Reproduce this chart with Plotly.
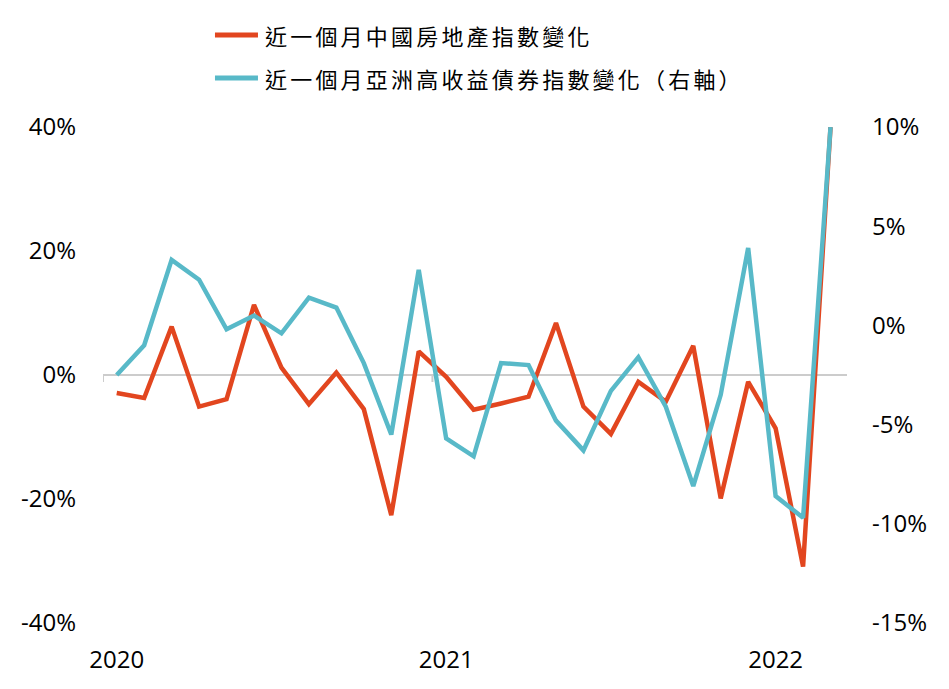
import plotly.graph_objects as go

months = ["2020-01","2020-02","2020-03","2020-04","2020-05","2020-06","2020-07","2020-08","2020-09","2020-10","2020-11","2020-12",
          "2021-01","2021-02","2021-03","2021-04","2021-05","2021-06","2021-07","2021-08","2021-09","2021-10","2021-11","2021-12",
          "2022-01","2022-02","2022-03"]
china_property = [-2.9, -3.7, 7.8, -5.1, -3.9, 11.3, 1.2, -4.7, 0.4, -5.5, -22.6, 3.8,
                  -0.3, -5.6, -4.6, -3.5, 8.4, -5.1, -9.5, -1.1, -4.3, 4.7, -19.9, -1.1,
                  -8.6, -30.9, 40.0]
asia_hy = [-2.5, -1.0, 3.3, 2.3, -0.2, 0.5, -0.4, 1.4, 0.9, -1.9, -5.5, 2.8,
           -5.7, -6.6, -1.9, -2.0, -4.8, -6.3, -3.3, -1.6, -4.1, -8.1, -3.5, 3.9,
           -8.6, -9.7, 10.0]
name_red = "近一個月中國房地產指數變化"
name_blue = "近一個月亞洲高收益債券指數變化（右軸）"
left_ticks = [-40, -20, 0, 20, 40]
right_ticks = [-15, -10, -5, 0, 5, 10]
year_ticks = ["2020-01", "2021-01", "2022-01"]
year_labels = ["2020", "2021", "2022"]

RED = "#E2461F"
BLUE = "#58B9C8"
CJK = "Noto Sans CJK TC"
NUM = "Open Sans"

fig = go.Figure()
fig.add_trace(go.Scatter(x=months, y=china_property, name=name_red, mode="lines",
                         line=dict(color=RED, width=4.5), showlegend=False))
fig.add_trace(go.Scatter(x=months, y=asia_hy, name=name_blue, mode="lines", yaxis="y2",
                         line=dict(color=BLUE, width=4.5), showlegend=False))

# zero-line tick marks at year boundaries
for v in [-0.5, 11.5, 23.5]:
    fig.add_shape(type="line", xref="x", yref="y", x0=v, x1=v, y0=0, y1=-7,
                  ysizemode="pixel", yanchor=0, line=dict(color="#cccccc", width=2), layer="below")

# manual legend
for name, color, ly in [(name_red, RED, 1.1855), (name_blue, BLUE, 1.0988)]:
    fig.add_shape(type="line", xref="paper", yref="paper", x0=0.1505, x1=0.2083, y0=ly, y1=ly,
                  line=dict(color=color, width=5))
    fig.add_annotation(xref="paper", yref="paper", x=0.2151, y=ly,
                       text=f'<span style="letter-spacing:3.2px">{name}</span>',
                       showarrow=False, xanchor="left", yanchor="middle",
                       font=dict(family=CJK, size=22, color="#000000"))

fig.update_layout(
    width=949, height=689,
    margin=dict(l=103, r=102, t=127, b=66),
    paper_bgcolor="white", plot_bgcolor="white",
    font=dict(family=NUM, size=24, color="#000000"),
    showlegend=False,
    xaxis=dict(type="category", categoryorder="array", categoryarray=months,
               range=[-0.5, 26.6], tickvals=year_ticks, ticktext=year_labels,
               showgrid=False, showline=False, zeroline=False, ticks="",
               tickfont=dict(size=24, family=NUM), ticklabelstandoff=20),
    yaxis=dict(range=[-40, 40], tickvals=left_ticks,
               ticktext=[f"{v}%" for v in left_ticks], showgrid=False,
               zeroline=True, zerolinecolor="#cccccc", zerolinewidth=2,
               showline=False, ticks="", ticklabelstandoff=26,
               tickfont=dict(size=24, family=NUM)),
    yaxis2=dict(range=[-15, 10], tickvals=right_ticks,
                ticktext=[f"{v}%" for v in right_ticks], overlaying="y", side="right",
                showgrid=False, zeroline=False, showline=False, ticks="",
                ticklabelstandoff=24, tickfont=dict(size=24, family=NUM)),
)

fig.write_html("out.html")
